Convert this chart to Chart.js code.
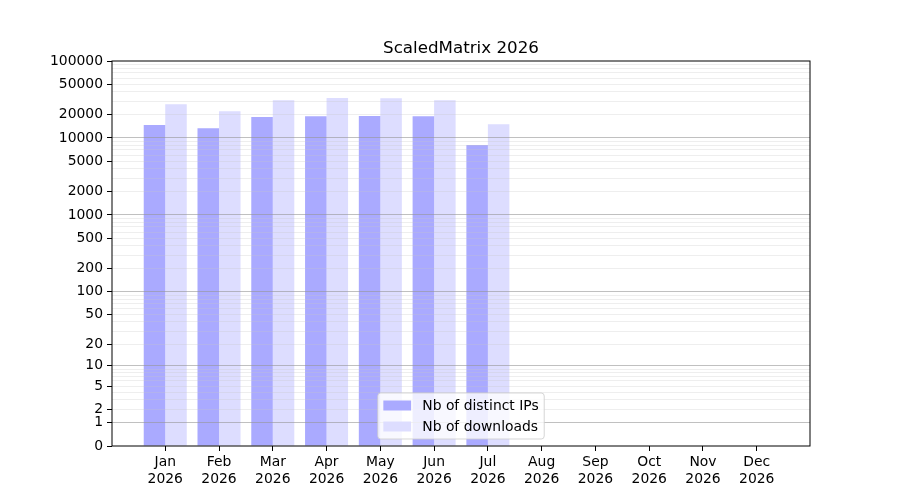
<!DOCTYPE html>
<html lang="en">
<head>
    <meta charset="utf-8">
    <title>ScaledMatrix 2026</title>
    <script src="https://cdn.jsdelivr.net/npm/chart.js"></script>
    <style>
        body { margin: 0; background: #fff; }
    </style>
</head>
<body>
<canvas id="downloadsChart" width="900" height="500"></canvas>

<script>
// chart data
const chartYear = 2026;
const months = ['Jan', 'Feb', 'Mar', 'Apr', 'May', 'Jun', 'Jul', 'Aug', 'Sep', 'Oct', 'Nov', 'Dec'];
const distinctIps = [14700, 13400, 18700, 19200, 19300, 19200, 8100];
const downloads = [27500, 22300, 31000, 33000, 32900, 31000, 15100];

// y ticks: labelled ones and the decades that get a darker grid line
const yLabelled = [0, 1, 2, 5, 10, 20, 50, 100, 200, 500, 1000, 2000, 5000, 10000, 20000, 50000, 100000];
const yDecades = [1, 10, 100, 1000, 10000];
const yMax = 100000;

// every grid position: 0, then 1..9 for each decade, then the top
const yGridValues = [0];
yDecades.forEach(d => {
    for (let k = 1; k <= 9; k++) yGridValues.push(d * k);
});
yGridValues.push(yMax);

// scale that places values at log10(v + 1)
class Log1pScale extends Chart.Scale {
    determineDataLimits() {
        const { max } = this.getMinMax(true);
        this.min = this.options.min ?? 0;
        this.max = this.options.max ?? max;
    }
    buildTicks() {
        return yGridValues
            .filter(v => v >= this.min && v <= this.max)
            .map(v => ({ value: v }));
    }
    configure() {
        super.configure();
        this._lpStart = Math.log10(this.min + 1);
        this._lpSpan = Math.log10(this.max + 1) - this._lpStart;
    }
    getLabelForValue(value) {
        return String(value);
    }
    getPixelForValue(value) {
        if (value === null || value === undefined || isNaN(value)) return NaN;
        const dec = (Math.log10(Math.max(value, 0) + 1) - this._lpStart) / this._lpSpan;
        return this.getPixelForDecimal(dec);
    }
    getValueForPixel(pixel) {
        return Math.pow(10, this._lpStart + this.getDecimalForPixel(pixel) * this._lpSpan) - 1;
    }
}
Log1pScale.id = 'log1p';
Log1pScale.defaults = {};
Chart.register(Log1pScale);

const FONT = 'DejaVu Sans';

// frame, title and the boxed legend at the bottom of the plot
const framePlugin = {
    id: 'framePlugin',
    afterDraw(chart) {
        const ctx = chart.ctx;
        const a = chart.chartArea;
        ctx.save();

        ctx.strokeStyle = '#000';
        ctx.lineWidth = 1;
        ctx.strokeRect(a.left, a.top, a.right - a.left, a.bottom - a.top);

        ctx.fillStyle = '#000';
        ctx.font = '16.7px "' + FONT + '"';
        ctx.textAlign = 'center';
        ctx.textBaseline = 'alphabetic';
        ctx.fillText('ScaledMatrix ' + chartYear, (a.left + a.right) / 2, a.top - 8.3);

        // legend
        const fs = 13.9;
        ctx.font = fs + 'px "' + FONT + '"';
        const sets = chart.data.datasets;
        let textW = 0;
        sets.forEach(ds => { textW = Math.max(textW, ctx.measureText(ds.label).width); });
        const pad = 0.4 * fs, handleW = 2 * fs, gap = 0.8 * fs, rowH = 21, edge = 12.5;
        const boxW = pad + handleW + gap + textW + pad;
        const boxH = edge * 2 + rowH * (sets.length - 1);
        const bx = (a.left + a.right) / 2 - boxW / 2;
        const by = a.bottom - 7 - boxH;
        ctx.beginPath();
        ctx.roundRect(bx, by, boxW, boxH, 3);
        ctx.fillStyle = 'rgba(255,255,255,0.8)';
        ctx.fill();
        ctx.strokeStyle = 'rgba(204,204,204,0.8)';
        ctx.stroke();
        ctx.textAlign = 'left';
        ctx.textBaseline = 'middle';
        sets.forEach((ds, i) => {
            const cy = by + edge + rowH * i;
            ctx.fillStyle = ds.backgroundColor;
            ctx.fillRect(bx + pad, cy - 5, handleW, 10);
            ctx.fillStyle = '#000';
            ctx.fillText(ds.label, bx + pad + handleW + gap, cy + 1);
        });
        ctx.restore();
    }
};

const ctx = document.getElementById('downloadsChart').getContext('2d');
new Chart(ctx, {
    type: 'bar',
    data: {
        datasets: [{
            label: 'Nb of distinct IPs',
            data: months.map((m, i) => ({ x: i + 1, y: i < distinctIps.length ? distinctIps[i] : null })),
            backgroundColor: '#aaaaff',
            borderWidth: 0
        },
        {
            label: 'Nb of downloads',
            data: months.map((m, i) => ({ x: i + 1, y: i < downloads.length ? downloads[i] : null })),
            backgroundColor: '#ddddff',
            borderWidth: 0
        }]
    },
    options: {
        responsive: false,
        animation: false,
        categoryPercentage: 0.8,
        barPercentage: 1.0,
        layout: { padding: { top: 61, right: 90, bottom: 0, left: 0 } },
        plugins: {
            legend: { display: false },
            title: { display: false },
            tooltip: { enabled: false }
        },
        scales: {
            x: {
                type: 'linear',
                offset: false,
                min: 0.01,
                max: 12.99,
                afterBuildTicks: axis => {
                    axis.ticks = months.map((m, i) => ({ value: i + 1 }));
                },
                afterFit: axis => { axis.height = 54; },
                ticks: {
                    autoSkip: false,
                    maxRotation: 0,
                    padding: 3,
                    color: '#000',
                    font: { family: FONT, size: 13.9, lineHeight: 1.2 },
                    callback: v => [months[v - 1], String(chartYear)]
                },
                grid: {
                    offset: false,
                    drawOnChartArea: false,
                    drawTicks: true,
                    tickLength: 5,
                    tickColor: '#000'
                },
                border: { display: false }
            },
            y: {
                type: 'log1p',
                min: 0,
                max: yMax,
                afterFit: axis => { axis.width = 112; },
                ticks: {
                    autoSkip: false,
                    padding: 4,
                    color: '#000',
                    font: { family: FONT, size: 13.9 },
                    callback: v => (yLabelled.includes(v) ? String(v) : '')
                },
                grid: {
                    z: 1,
                    lineWidth: 1,
                    tickLength: 5,
                    color: c => {
                        const v = c.tick.value;
                        if (v === 0 || v === yMax) return 'rgba(0,0,0,0)';
                        return yDecades.includes(v) ? 'rgba(150,150,150,0.6)' : 'rgba(200,200,200,0.3)';
                    },
                    tickColor: c => (yLabelled.includes(c.tick.value) ? '#000' : 'rgba(0,0,0,0)')
                },
                border: { display: false }
            }
        }
    },
    plugins: [framePlugin]
});
</script>
</body>
</html>
